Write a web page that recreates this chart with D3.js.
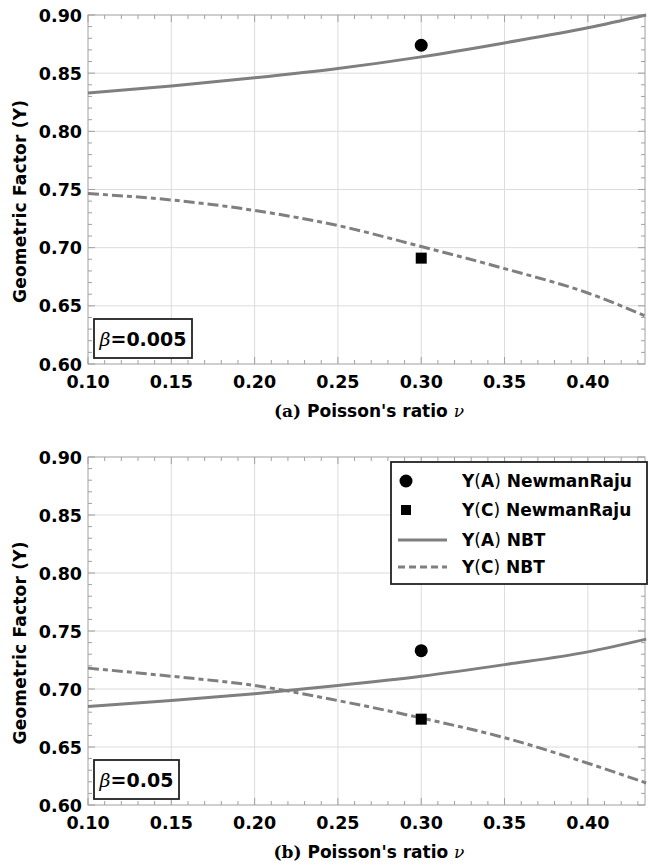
<!DOCTYPE html>
<html>
<head>
<meta charset="utf-8">
<script src="https://cdn.jsdelivr.net/npm/d3@7"></script>
<style>
  body { margin: 0; background: #fff; }
  text { font-family: "DejaVu Sans", Verdana, sans-serif; font-weight: bold; }
  .serif { font-family: "DejaVu Serif", "Liberation Serif", serif; }
</style>
</head>
<body>
<div id="chart"></div>
<script>
// Poisson's ratio samples along the curves
var nu = [0.10, 0.15, 0.20, 0.25, 0.30, 0.35, 0.40, 0.435];

// panel (a), beta = 0.005
var yA_nbt_a = [0.833, 0.839, 0.846, 0.854, 0.864, 0.876, 0.889, 0.900];
var yC_nbt_a = [0.7465, 0.741, 0.732, 0.719, 0.701, 0.682, 0.661, 0.641];
var yA_nr_a = 0.874;
var yC_nr_a = 0.691;

// panel (b), beta = 0.05
var yA_nbt_b = [0.685, 0.690, 0.696, 0.703, 0.711, 0.721, 0.732, 0.743];
var yC_nbt_b = [0.718, 0.711, 0.703, 0.690, 0.675, 0.658, 0.636, 0.619];
var yA_nr_b = 0.733;
var yC_nr_b = 0.674;

var nuPoint = 0.30;
var xTicks = [0.10, 0.15, 0.20, 0.25, 0.30, 0.35, 0.40];
var yTicks = [0.60, 0.65, 0.70, 0.75, 0.80, 0.85, 0.90];
var legendLabels = [["A", " NewmanRaju"], ["C", " NewmanRaju"], ["A", " NBT"], ["C", " NBT"]];

var svgWidth = 650;
var svgHeight = 867;
var lineColor = "#7f7f7f";
var dashPattern = "11,4,5,4";

var svg = d3.select("#chart")
  .append("svg")
  .attr("width", svgWidth)
  .attr("height", svgHeight);

var x = d3.scaleLinear()
  .domain([0.10, 0.4343])
  .range([88, 645]);

function drawPanel(opts) {
  var y = d3.scaleLinear()
    .domain([0.60, 0.90])
    .range([opts.bottom, opts.top]);

  var g = svg.append("g");
  var x0 = x.range()[0], x1 = x.range()[1];

  // grid
  g.selectAll(".vgrid").data(xTicks.slice(1)).enter().append("line")
    .attr("x1", d => x(d)).attr("x2", d => x(d))
    .attr("y1", opts.top).attr("y2", opts.bottom)
    .attr("stroke", "#dcdcdc").attr("stroke-width", 1);
  g.selectAll(".hgrid").data(yTicks.slice(1, -1)).enter().append("line")
    .attr("x1", x0).attr("x2", x1)
    .attr("y1", d => y(d)).attr("y2", d => y(d))
    .attr("stroke", "#dcdcdc").attr("stroke-width", 1);

  // frame
  g.append("rect")
    .attr("x", x0).attr("y", opts.top)
    .attr("width", x1 - x0).attr("height", opts.bottom - opts.top)
    .attr("fill", "none").attr("stroke", "#a0a0a0").attr("stroke-width", 1);

  // inward ticks on every side
  var xMinor = d3.range(0.10, 0.4343, 0.01);
  var yMinor = d3.range(0.60, 0.9001, 0.01);
  function isMajor(v) { return Math.abs(v * 20 - Math.round(v * 20)) < 1e-6; }
  [opts.bottom, opts.top].forEach(function(edge, i) {
    var dir = i === 0 ? -1 : 1;
    g.selectAll(null).data(xMinor).enter().append("line")
      .attr("x1", d => x(d)).attr("x2", d => x(d))
      .attr("y1", edge).attr("y2", d => edge + dir * (isMajor(d) ? 7 : 4))
      .attr("stroke", "#a0a0a0");
  });
  [x0, x1].forEach(function(edge, i) {
    var dir = i === 0 ? 1 : -1;
    g.selectAll(null).data(yMinor).enter().append("line")
      .attr("y1", d => y(d)).attr("y2", d => y(d))
      .attr("x1", edge).attr("x2", d => edge + dir * (isMajor(d) ? 7 : 4))
      .attr("stroke", "#a0a0a0");
  });

  // tick labels
  g.selectAll(".xl").data(xTicks).enter().append("text")
    .attr("x", d => x(d)).attr("y", opts.bottom + 24)
    .attr("text-anchor", "middle").attr("font-size", 17.5)
    .text(d => d3.format(".2f")(d));
  g.selectAll(".yl").data(yTicks).enter().append("text")
    .attr("x", 82).attr("y", d => y(d) + 6.5)
    .attr("text-anchor", "end").attr("font-size", 17.5)
    .text(d => d3.format(".2f")(d));

  // y title
  g.append("text")
    .attr("transform", `translate(26, ${(opts.top + opts.bottom) / 2 + 12}) rotate(-90)`)
    .attr("text-anchor", "middle").attr("font-size", 17)
    .attr("textLength", 203).attr("lengthAdjust", "spacing")
    .text("Geometric  Factor (Y)");

  // x caption
  var cap = g.append("text")
    .attr("x", 369).attr("y", opts.bottom + 53)
    .attr("text-anchor", "middle").attr("font-size", 17);
  cap.append("tspan").attr("class", "serif").text(opts.tag + " ");
  cap.append("tspan").text("Poisson's ratio ");
  cap.append("tspan").attr("class", "serif").attr("font-style", "italic")
    .attr("font-weight", "normal").text("ν");

  // curves
  var line = d3.line()
    .x((d, i) => x(nu[i]))
    .y(d => y(d))
    .curve(d3.curveMonotoneX);
  g.append("path").datum(opts.yA).attr("d", line)
    .attr("fill", "none").attr("stroke", lineColor).attr("stroke-width", 3);
  g.append("path").datum(opts.yC).attr("d", line)
    .attr("fill", "none").attr("stroke", lineColor).attr("stroke-width", 3)
    .attr("stroke-dasharray", dashPattern);

  // Newman-Raju points
  g.append("circle")
    .attr("cx", x(nuPoint)).attr("cy", y(opts.nrA)).attr("r", 6.5)
    .attr("fill", "#000");
  g.append("rect")
    .attr("x", x(nuPoint) - 5.5).attr("y", y(opts.nrC) - 5.5)
    .attr("width", 11).attr("height", 11).attr("fill", "#000");

  // beta box
  g.append("rect")
    .attr("x", 94).attr("y", opts.bottom - 45)
    .attr("width", opts.boxW).attr("height", 39)
    .attr("fill", "#fff").attr("stroke", "#222").attr("stroke-width", 1.8);
  var bt = g.append("text")
    .attr("x", 94 + opts.boxW / 2).attr("y", opts.bottom - 18)
    .attr("text-anchor", "middle").attr("font-size", 19);
  bt.append("tspan").attr("class", "serif").attr("font-style", "italic")
    .attr("font-weight", "normal").text("β");
  bt.append("tspan").text("=" + opts.beta);

  return { g: g, y: y };
}

drawPanel({
  top: 15, bottom: 364, tag: "(a)", beta: "0.005", boxW: 98,
  yA: yA_nbt_a, yC: yC_nbt_a, nrA: yA_nr_a, nrC: yC_nr_a
});

var pb = drawPanel({
  top: 457, bottom: 805, tag: "(b)", beta: "0.05", boxW: 85,
  yA: yA_nbt_b, yC: yC_nbt_b, nrA: yA_nr_b, nrC: yC_nr_b
});

// legend (panel b)
var lg = pb.g.append("g").attr("transform", "translate(391, 462)");
lg.append("rect")
  .attr("width", 256).attr("height", 122)
  .attr("fill", "#fff").attr("stroke", "#222").attr("stroke-width", 1.8);
var rowY = [19, 48, 78, 105];
lg.append("circle").attr("cx", 15).attr("cy", rowY[0]).attr("r", 6.5).attr("fill", "#000");
lg.append("rect").attr("x", 10).attr("y", rowY[1] - 5).attr("width", 10).attr("height", 10).attr("fill", "#000");
lg.append("line").attr("x1", 7).attr("x2", 56).attr("y1", rowY[2]).attr("y2", rowY[2])
  .attr("stroke", lineColor).attr("stroke-width", 3);
lg.append("line").attr("x1", 7).attr("x2", 56).attr("y1", rowY[3]).attr("y2", rowY[3])
  .attr("stroke", lineColor).attr("stroke-width", 3).attr("stroke-dasharray", "7,4");
legendLabels.forEach(function(lab, i) {
  var t = lg.append("text").attr("x", 71).attr("y", rowY[i] + 6).attr("font-size", 17);
  t.append("tspan").text("Y");
  t.append("tspan").attr("font-weight", "normal").text("(");
  t.append("tspan").text(lab[0]);
  t.append("tspan").attr("font-weight", "normal").text(")");
  t.append("tspan").text(lab[1]);
});
</script>
</body>
</html>
